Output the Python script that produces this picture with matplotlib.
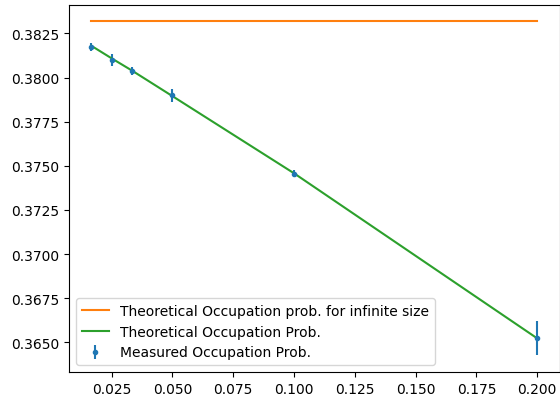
import matplotlib
matplotlib.use("Agg")
import matplotlib.pyplot as plt

# Inverse system size values
inv_size = [1/60, 1/40, 1/30, 1/20, 1/10, 1/5]

# Measured occupation probabilities with standard errors
measured = [0.38173, 0.38101, 0.38035, 0.37899, 0.37455, 0.36523]
measured_err = [0.00023, 0.00034, 0.00023, 0.00038, 0.00019, 0.00096]

# Theoretical occupation probabilities for the same sizes
theory = [0.38180, 0.38109, 0.38040, 0.37895, 0.37458, 0.36523]

# Infinite-size limit
p_inf = 0.38318

fig = plt.figure(figsize=(5.6, 4.02), dpi=100)
ax = fig.add_axes([69/560, 29/402, 490.5/560, 367.3/402])

ax.errorbar(inv_size, measured, yerr=measured_err, fmt='.', label='Measured Occupation Prob.')
ax.plot([inv_size[0], inv_size[-1]], [p_inf, p_inf], color='C1',
        label='Theoretical Occupation prob. for infinite size')
ax.plot(inv_size, theory, color='C2', label='Theoretical Occupation Prob.')

ax.legend(loc='lower left')
fig.savefig('out.png', dpi=100)
